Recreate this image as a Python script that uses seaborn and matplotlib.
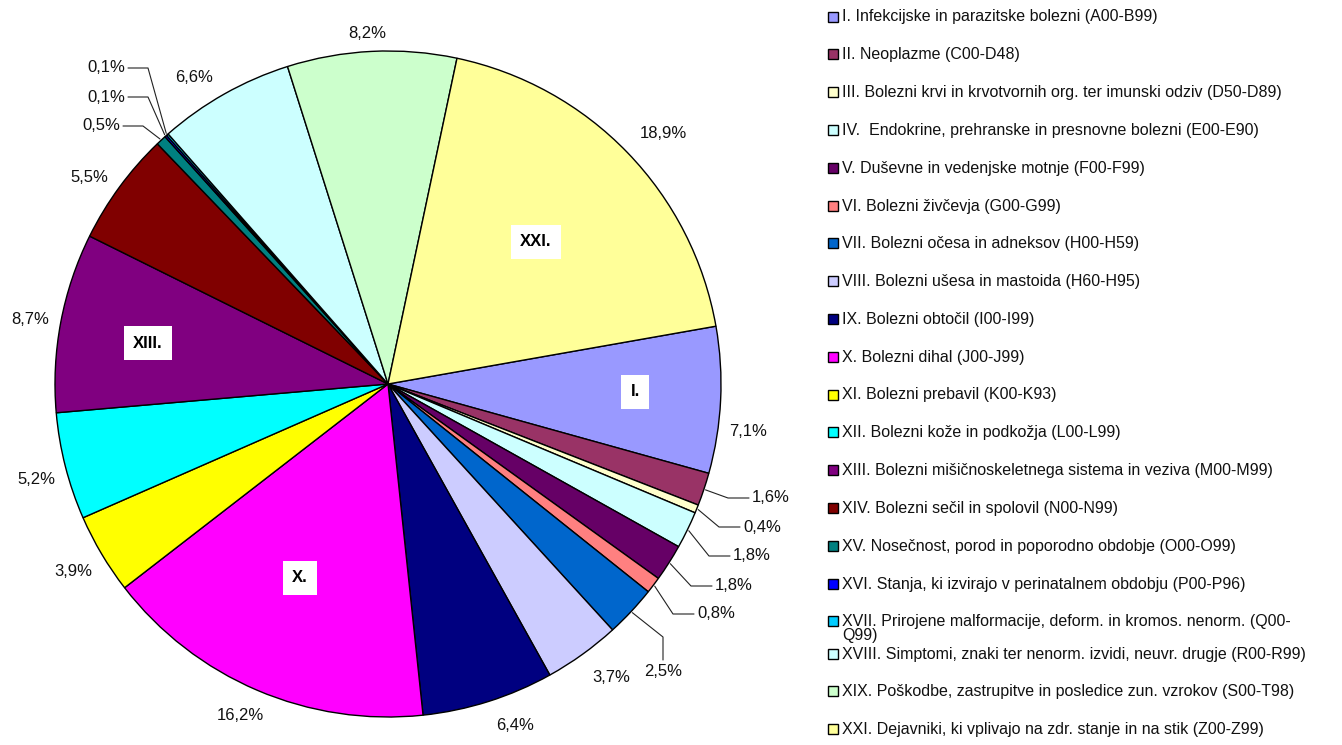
import numpy as np
import matplotlib
matplotlib.use('Agg')
import matplotlib.pyplot as plt
import seaborn as sns
from matplotlib.patches import Rectangle

# chart data
categories = [
    "I. Infekcijske in parazitske bolezni (A00-B99)",
    "II. Neoplazme (C00-D48)",
    "III. Bolezni krvi in krvotvornih org. ter imunski odziv (D50-D89)",
    "IV.  Endokrine, prehranske in presnovne bolezni (E00-E90)",
    "V. Duševne in vedenjske motnje (F00-F99)",
    "VI. Bolezni živčevja (G00-G99)",
    "VII. Bolezni očesa in adneksov (H00-H59)",
    "VIII. Bolezni ušesa in mastoida (H60-H95)",
    "IX. Bolezni obtočil (I00-I99)",
    "X. Bolezni dihal (J00-J99)",
    "XI. Bolezni prebavil (K00-K93)",
    "XII. Bolezni kože in podkožja (L00-L99)",
    "XIII. Bolezni mišičnoskeletnega sistema in veziva (M00-M99)",
    "XIV. Bolezni sečil in spolovil (N00-N99)",
    "XV. Nosečnost, porod in poporodno obdobje (O00-O99)",
    "XVI. Stanja, ki izvirajo v perinatalnem obdobju (P00-P96)",
    "XVII. Prirojene malformacije, deform. in kromos. nenorm. (Q00-\nQ99)",
    "XVIII. Simptomi, znaki ter nenorm. izvidi, neuvr. drugje (R00-R99)",
    "XIX. Poškodbe, zastrupitve in posledice zun. vzrokov (S00-T98)",
    "XXI. Dejavniki, ki vplivajo na zdr. stanje in na stik (Z00-Z99)",
]
shares = [7.1, 1.6, 0.4, 1.8, 1.8, 0.8, 2.5, 3.7, 6.4, 16.2,
          3.9, 5.2, 8.7, 5.5, 0.5, 0.1, 0.1, 6.6, 8.2, 18.9]
colors = ['#9999FF', '#993366', '#FFFFCC', '#CCFFFF', '#660066', '#FF8080',
          '#0066CC', '#CCCCFF', '#000080', '#FF00FF', '#FFFF00', '#00FFFF',
          '#800080', '#800000', '#008080', '#0000FF', '#00CCFF', '#CCFFFF',
          '#CCFFCC', '#FFFF99']
boxed = {0: "I.", 9: "X.", 12: "XIII.", 19: "XXI."}

# layout (pixels)
W, H = 1342, 745
CX, CY, R = 388, 384, 333
# percent label anchor (x, y, ha, leader type)
pct_pos = [
    (748, 432, 'center', None), (752, 498, 'left', 'r'), (743, 527, 'left', 'r'),
    (733, 556, 'left', 'r'), (715, 586, 'left', 'r'), (697, 614, 'left', 'r'),
    (663, 672, 'center', 'v'), (611, 678, 'center', None), (515, 725, 'center', None),
    (240, 716, 'center', None), (73, 572, 'center', None), (36, 479, 'center', None),
    (30, 320, 'center', None), (89, 177, 'center', None), (120, 126, 'right', 'l'),
    (125, 97, 'right', 'l'), (125, 68, 'right', 'l'), (194, 78, 'center', None),
    (367, 33, 'center', None), (663, 134, 'center', None),
]
box_pos = {0: (635, 392), 9: (300, 578), 12: (148, 343), 19: (536, 242)}

sns.set_theme(style='white')
plt.rcParams['font.family'] = ['Liberation Sans', 'DejaVu Sans']

fig = plt.figure(figsize=(W / 100, H / 100), dpi=100)
fig.patch.set_facecolor('white')

# overlay axes in pixel coordinates for labels / legend
ov = fig.add_axes([0, 0, 1, 1])
ov.set_xlim(0, W)
ov.set_ylim(H, 0)
ov.axis('off')

ax = fig.add_axes([(CX - R) / W, (H - CY - R) / H, 2 * R / W, 2 * R / H])
wedges, _ = ax.pie(shares, colors=colors, startangle=10, counterclock=False,
                   wedgeprops=dict(edgecolor='black', linewidth=1.0))
ax.set_xlim(-1, 1)
ax.set_ylim(-1, 1)
ax.set_aspect('equal')
ax.axis('off')
ov.set_zorder(ax.get_zorder() + 1)

def edge_point(w, r=1.0):
    mid = np.deg2rad((w.theta1 + w.theta2) / 2)
    return CX + R * r * np.cos(mid), CY - R * r * np.sin(mid)

for i, (w, v) in enumerate(zip(wedges, shares)):
    x, y, ha, lead = pct_pos[i]
    txt = f"{v:.1f}%".replace('.', ',')
    ov.text(x, y, txt, ha=ha, va='center', fontsize=12, color='#111111')
    if lead is None:
        continue
    ex, ey = edge_point(w, 1.005)
    if lead == 'r':
        xs, ys = [ex, x - 24, x - 3], [ey, y, y]
    elif lead == 'l':
        xs, ys = [ex, x + 23, x + 3], [ey, y, y]
    else:
        xs, ys = [ex, x, x], [ey, y - 35, y - 12]
    ov.plot(xs, ys, color='#222222', lw=0.8)

for i, lab in boxed.items():
    bx, by = box_pos[i]
    ov.text(bx, by, lab, ha='center', va='center', fontsize=12, fontweight='bold',
            color='black', bbox=dict(boxstyle='square,pad=0.55', fc='white', ec='none'))

# legend
row_y = 17 + 37.8 * np.arange(len(categories))
row_y[17:] -= 5.5
for i, (lab, c) in enumerate(zip(categories, colors)):
    yy = row_y[i]
    ov.add_patch(Rectangle((827.5, yy - 5.5), 10, 10, facecolor=c,
                           edgecolor='black', linewidth=1.0))
    for k, line in enumerate(lab.split('\n')):
        ov.text(842, yy + k * 13.5, line, ha='left', va='center', fontsize=11.5,
                color='#111111')

fig.savefig('out.png', dpi=100, facecolor='white')
